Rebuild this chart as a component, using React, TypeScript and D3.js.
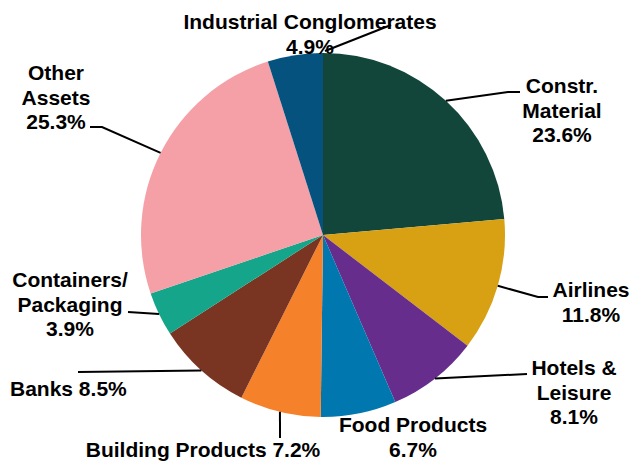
import React from "react";
import * as d3 from "d3";

const categories = [
  "Constr. Material",
  "Airlines",
  "Hotels & Leisure",
  "Food Products",
  "Building Products",
  "Banks",
  "Containers/Packaging",
  "Other Assets",
  "Industrial Conglomerates",
];
const values = [23.6, 11.8, 8.1, 6.7, 7.2, 8.5, 3.9, 25.3, 4.9];
const colors = [
  "#12463a",
  "#d8a013",
  "#662d8c",
  "#0077ae",
  "#f5822a",
  "#7a3522",
  "#14a58a",
  "#f4a0a6",
  "#06527f",
];
const labelLines = [
  ["Constr.", "Material", "23.6%"],
  ["Airlines", "11.8%"],
  ["Hotels &", "Leisure", "8.1%"],
  ["Food Products", "6.7%"],
  ["Building Products 7.2%"],
  ["Banks 8.5%"],
  ["Containers/", "Packaging", "3.9%"],
  ["Other", "Assets", "25.3%"],
  ["Industrial Conglomerates", "4.9%"],
];

type Layout = {
  x: number;
  y: number;
  anchor: "start" | "middle" | "end";
  leader: [number, number][] | null;
  fromArc: boolean;
};
const layout: Layout[] = [
  { x: 562, y: 93, anchor: "middle", leader: [[508, 92], [520, 92]], fromArc: true },
  { x: 591, y: 297, anchor: "middle", leader: [[538, 297], [548, 297]], fromArc: true },
  { x: 574, y: 375, anchor: "middle", leader: [[527, 374]], fromArc: true },
  { x: 413, y: 432, anchor: "middle", leader: null, fromArc: true },
  { x: 203, y: 457, anchor: "middle", leader: [[280, 438]], fromArc: true },
  { x: 10, y: 396, anchor: "start", leader: [[78, 372]], fromArc: true },
  { x: 70, y: 287, anchor: "middle", leader: [[128, 312]], fromArc: true },
  { x: 56, y: 80, anchor: "middle", leader: [[102, 127], [90, 127]], fromArc: true },
  { x: 310, y: 29, anchor: "middle", leader: [[325, 51], [391, 25]], fromArc: false },
];

const W = 631;
const H = 461;
const cx = 323;
const cy = 235;
const R = 182;
const lineH = 24.5;

export default function App() {
  const pie = d3
    .pie<number>()
    .sort(null)
    .value((d) => d);
  const arcs = pie(values);
  const arcGen = d3.arc<d3.PieArcDatum<number>>().innerRadius(0).outerRadius(R);

  return (
    <svg
      width={W}
      height={H}
      style={{ position: "absolute", left: 0, top: 0, background: "#fff" }}
      fontFamily="'Liberation Sans', Arial, sans-serif"
      fontWeight="bold"
      fontSize={21}
    >
      <g transform={`translate(${cx},${cy})`}>
        {arcs.map((a, i) => (
          <path key={i} d={arcGen(a) || ""} fill={colors[i]} />
        ))}
      </g>
      {arcs.map((a, i) => {
        const L = layout[i];
        if (!L.leader) return null;
        const mid = (a.startAngle + a.endAngle) / 2;
        const start: [number, number] = [cx + R * Math.sin(mid), cy - R * Math.cos(mid)];
        const pts = L.fromArc ? [start, ...L.leader] : L.leader;
        return (
          <polyline
            key={"l" + i}
            points={pts.map((p) => p.join(",")).join(" ")}
            fill="none"
            stroke="#000"
            strokeWidth={2}
          />
        );
      })}
      {labelLines.map((lines, i) => {
        const L = layout[i];
        return (
          <text key={"t" + i} x={L.x} y={L.y} textAnchor={L.anchor} fill="#000">
            {lines.map((s, j) => (
              <tspan key={j} x={L.x} y={L.y + j * lineH}>
                {s}
              </tspan>
            ))}
          </text>
        );
      })}
    </svg>
  );
}
